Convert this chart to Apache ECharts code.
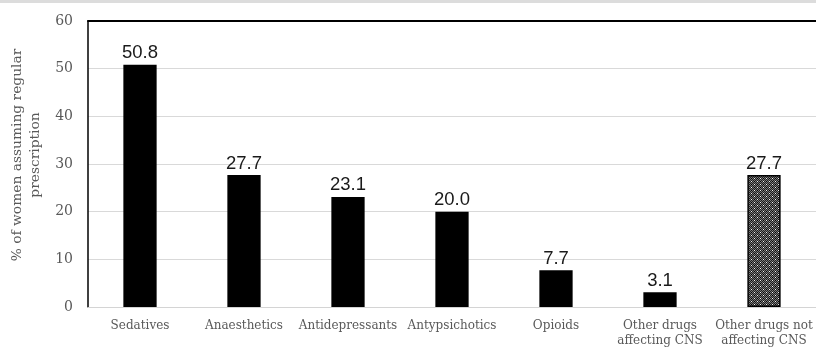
<!DOCTYPE html>
<html>
<head>
<meta charset="utf-8">
<script src="https://cdn.jsdelivr.net/npm/echarts@6/dist/echarts.min.js"></script>
<style>
  html, body { margin: 0; padding: 0; background: #fff; }
  #topband { position: absolute; left: 0; top: 0; width: 816px; height: 3px; background: #dcdcdc; }
  #chart { width: 816px; height: 349px; }
</style>
</head>
<body>
<div id="topband"></div>
<div id="chart"></div>
<script>
// Drug classes and share of women on each regular prescription (%)
const categories = [
  'Sedatives', 'Anaesthetics', 'Antidepressants', 'Antypsichotics',
  'Opioids', 'Other drugs\naffecting CNS', 'Other drugs not\naffecting CNS'
];
const values = [50.8, 27.7, 23.1, 20.0, 7.7, 3.1, 27.7];
const patternedIndex = 6; // the non-CNS group is drawn hatched
const yTicks = { min: 0, max: 60, interval: 10 };
const yAxisTitle = '% of women assuming regular\nprescription';

// Small dotted tile used to fill the hatched bar
function makeDotTile() {
  const c = document.createElement('canvas');
  c.width = 6; c.height = 6;
  const g = c.getContext('2d');
  g.fillStyle = '#1e1e1e';
  g.fillRect(0, 0, 6, 6);
  for (let y = 0; y < 6; y++) {
    for (let x = 0; x < 6; x++) {
      if ((x + y) % 2 === 0) { g.fillStyle = '#7a7a7a'; g.fillRect(x, y, 1, 1); }
    }
  }
  g.fillStyle = '#f0f0f0';
  g.fillRect(1, 1, 1, 1);
  g.fillRect(4, 4, 1, 1);
  g.fillStyle = '#000';
  g.fillRect(4, 1, 1, 1);
  g.fillRect(1, 4, 1, 1);
  return c;
}
const dotPattern = { image: makeDotTile(), repeat: 'repeat' };

const serif = 'DejaVu Serif';

const chart = echarts.init(document.getElementById('chart'), null, { renderer: 'canvas' });
chart.setOption({
  animation: false,
  backgroundColor: 'transparent',
  grid: { left: 88, right: -2, top: 21, bottom: 42, containLabel: false },
  xAxis: [
    {
      type: 'category',
      data: categories,
      axisLine: { show: true, lineStyle: { color: '#d4d4d4', width: 1 } },
      axisTick: { show: false },
      axisLabel: {
        color: '#595959', fontFamily: serif, fontSize: 12,
        interval: 0, margin: 11, lineHeight: 15
      }
    },
    {
      type: 'category',
      position: 'top',
      data: categories,
      axisLine: { show: true, lineStyle: { color: '#000', width: 2 } },
      axisTick: { show: false },
      axisLabel: { show: false }
    }
  ],
  yAxis: {
    type: 'value',
    min: yTicks.min, max: yTicks.max, interval: yTicks.interval,
    name: yAxisTitle,
    nameLocation: 'middle',
    nameGap: 44,
    nameTextStyle: {
      color: '#595959', fontFamily: serif, fontSize: 13.8, lineHeight: 18,
      padding: [0, 0, 0, 18]
    },
    axisLine: { show: true, lineStyle: { color: '#000', width: 1.5 } },
    axisTick: { show: false },
    axisLabel: { color: '#595959', fontFamily: serif, fontSize: 14, margin: 15 },
    splitLine: { show: true, lineStyle: { color: '#d9d9d9', width: 1 } }
  },
  series: [{
    type: 'bar',
    xAxisIndex: 0,
    barWidth: '32%',
    data: values.map((v, i) => i === patternedIndex
      ? { value: v, itemStyle: { color: dotPattern, borderColor: '#000', borderWidth: 1.5 } }
      : { value: v }),
    itemStyle: { color: '#000' },
    label: {
      show: true, position: 'top', distance: 2,
      color: '#1a1a1a', fontFamily: 'Liberation Sans', fontSize: 18.5,
      formatter: p => p.value.toFixed(1)
    }
  }]
});
</script>
</body>
</html>
